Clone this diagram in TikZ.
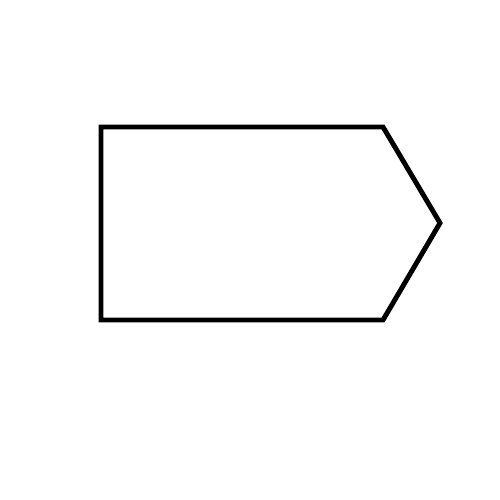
\documentclass[tikz,border=0pt]{standalone}
\usetikzlibrary{calc}

\begin{document}
\begin{tikzpicture}[line cap=round,line join=miter]
  \useasboundingbox (0,0) rectangle (5,5);
  \draw[line width=1.4pt] (1.01,3.73) -- (3.83,3.73) -- (4.40,2.77)
    -- (3.83,1.80) -- (1.01,1.80) -- cycle;
\end{tikzpicture}
\end{document}
